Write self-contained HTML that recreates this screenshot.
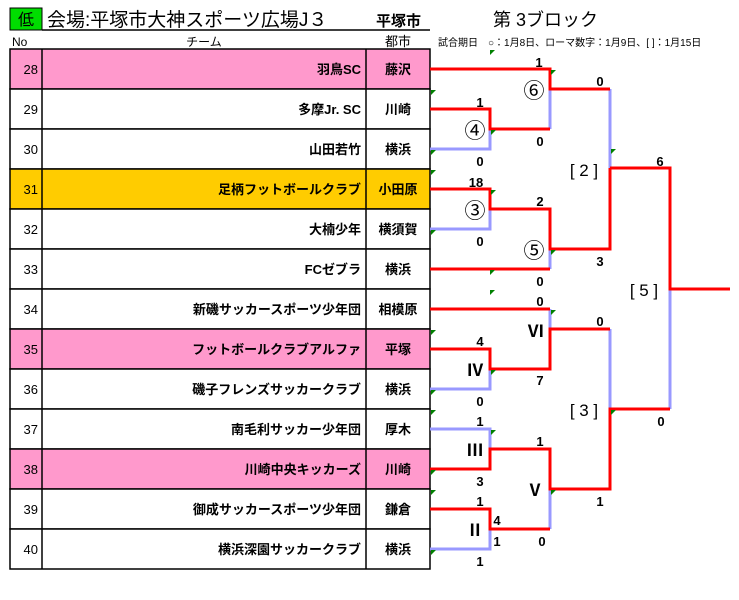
<!DOCTYPE html>
<html><head><meta charset="utf-8"><style>
body{margin:0;background:#fff;width:739px;height:600px;overflow:hidden}
svg{display:block}
text{font-family:"Liberation Sans","Noto Sans CJK JP",sans-serif;fill:#000}
.n{font-size:13px}
.t{font-size:13px;font-weight:bold;text-anchor:end}
.c{font-size:13px;font-weight:bold;text-anchor:middle}
.s{font-size:13px;font-weight:bold;text-anchor:middle}
.m{font-size:17px;text-anchor:middle}
.o{font-size:21px;text-anchor:middle}
.rm{font-size:17px;text-anchor:middle;font-family:"Liberation Serif","Noto Serif CJK SC",serif;font-weight:bold}
.r{stroke:#ff0000;stroke-width:3;fill:none}
.b{stroke:#9999ff;stroke-width:3;fill:none}
</style></head><body>
<svg width="739" height="600" viewBox="0 0 739 600">
<rect x="10" y="8" width="32" height="22" fill="#00dd00" stroke="#000"/>
<text x="26" y="25" style="font-size:16px;text-anchor:middle">低</text>
<text x="47" y="26" style="font-size:19px">会場:平塚市大神スポーツ広場J３</text>
<text x="376" y="26" style="font-size:15px;font-weight:bold">平塚市</text>
<line x1="42" y1="30" x2="430" y2="30" stroke="#000" stroke-width="1.5"/>
<text x="493" y="26" style="font-size:18px">第 3ブロック</text>
<text x="12" y="46" style="font-size:12px">No</text>
<text x="204" y="46" style="font-size:12px;text-anchor:middle">チーム</text>
<text x="398" y="46" style="font-size:13px;text-anchor:middle">都市</text>
<text x="438" y="46" style="font-size:10px">試合期日　○：1月8日、ローマ数字：1月9日、[ ]：1月15日</text>
<g stroke="#000" stroke-width="1.5">
<rect x="10" y="49" width="420" height="40" fill="#ff99cc"/>
<rect x="10" y="89" width="420" height="40" fill="#fff"/>
<rect x="10" y="129" width="420" height="40" fill="#fff"/>
<rect x="10" y="169" width="420" height="40" fill="#ffcc00"/>
<rect x="10" y="209" width="420" height="40" fill="#fff"/>
<rect x="10" y="249" width="420" height="40" fill="#fff"/>
<rect x="10" y="289" width="420" height="40" fill="#fff"/>
<rect x="10" y="329" width="420" height="40" fill="#ff99cc"/>
<rect x="10" y="369" width="420" height="40" fill="#fff"/>
<rect x="10" y="409" width="420" height="40" fill="#fff"/>
<rect x="10" y="449" width="420" height="40" fill="#ff99cc"/>
<rect x="10" y="489" width="420" height="40" fill="#fff"/>
<rect x="10" y="529" width="420" height="40" fill="#fff"/>
<line x1="42" y1="49" x2="42" y2="569"/>
<line x1="366" y1="49" x2="366" y2="569"/>
</g>
<g class="n" text-anchor="end">
<text x="38" y="74">28</text><text x="38" y="114">29</text><text x="38" y="154">30</text>
<text x="38" y="194">31</text><text x="38" y="234">32</text><text x="38" y="274">33</text>
<text x="38" y="314">34</text><text x="38" y="354">35</text><text x="38" y="394">36</text>
<text x="38" y="434">37</text><text x="38" y="474">38</text><text x="38" y="514">39</text>
<text x="38" y="554">40</text>
</g>
<text class="t" x="361" y="74">羽鳥SC</text><text class="c" x="398" y="74">藤沢</text>
<text class="t" x="361" y="114">多摩Jr. SC</text><text class="c" x="398" y="114">川崎</text>
<text class="t" x="361" y="154">山田若竹</text><text class="c" x="398" y="154">横浜</text>
<text class="t" x="361" y="194">足柄フットボールクラブ</text><text class="c" x="398" y="194">小田原</text>
<text class="t" x="361" y="234">大楠少年</text><text class="c" x="398" y="234">横須賀</text>
<text class="t" x="361" y="274">FCゼブラ</text><text class="c" x="398" y="274">横浜</text>
<text class="t" x="361" y="314">新磯サッカースポーツ少年団</text><text class="c" x="398" y="314">相模原</text>
<text class="t" x="361" y="354">フットボールクラブアルファ</text><text class="c" x="398" y="354">平塚</text>
<text class="t" x="361" y="394">磯子フレンズサッカークラブ</text><text class="c" x="398" y="394">横浜</text>
<text class="t" x="361" y="434">南毛利サッカー少年団</text><text class="c" x="398" y="434">厚木</text>
<text class="t" x="361" y="474">川崎中央キッカーズ</text><text class="c" x="398" y="474">川崎</text>
<text class="t" x="361" y="514">御成サッカースポーツ少年団</text><text class="c" x="398" y="514">鎌倉</text>
<text class="t" x="361" y="554">横浜深園サッカークラブ</text><text class="c" x="398" y="554">横浜</text>

<polyline class="b" points="550,89 550,129"/>
<polyline class="b" points="430,149 490,149 490,129"/>
<polyline class="b" points="610,89 610,168"/>
<polyline class="b" points="430,229 490,229 490,209"/>
<polyline class="b" points="550,249 550,269"/>
<polyline class="b" points="670,289 670,409"/>
<polyline class="b" points="550,309 550,329"/>
<polyline class="b" points="430,389 490,389 490,369"/>
<polyline class="b" points="610,329 610,409"/>
<polyline class="b" points="430,429 490,429 490,449"/>
<polyline class="b" points="550,489 550,529"/>
<polyline class="b" points="430,549 490,549 490,529"/>
<polyline class="r" points="430,69 550,69 550,89 610,89"/>
<polyline class="r" points="430,109 490,109 490,129 550,129"/>
<polyline class="r" points="610,168 670,168 670,289 730,289"/>
<polyline class="r" points="610,168 610,249 550,249 550,209 490,209 490,189 430,189"/>
<polyline class="r" points="430,269 550,269"/>
<polyline class="r" points="430,309 550,309"/>
<polyline class="r" points="610,329 550,329 550,369 490,369 490,349 430,349"/>
<polyline class="r" points="670,409 610,409 610,489 550,489 550,449 490,449 490,469 430,469"/>
<polyline class="r" points="430,509 490,509 490,529 550,529"/>
<g class="s">
<text x="539" y="67">1</text><text x="600" y="86">0</text><text x="480" y="107">1</text>
<text x="540" y="146">0</text><text x="480" y="166">0</text><text x="660" y="166">6</text>
<text x="476" y="187">18</text><text x="540" y="206">2</text><text x="480" y="246">0</text>
<text x="600" y="266">3</text><text x="540" y="286">0</text><text x="540" y="306">0</text>
<text x="600" y="326">0</text><text x="480" y="346">4</text><text x="540" y="385">7</text>
<text x="480" y="406">0</text><text x="661" y="426">0</text><text x="480" y="426">1</text>
<text x="540" y="446">1</text><text x="480" y="486">3</text><text x="600" y="506">1</text>
<text x="480" y="506">1</text><text x="497" y="525">4</text><text x="497" y="546">1</text>
<text x="542" y="546">0</text><text x="480" y="566">1</text>
</g>
<g class="o">
<text x="534" y="98">⑥</text><text x="475" y="138">④</text><text x="475" y="218">③</text>
<text x="534" y="258">⑤</text>
</g>
<g class="m">
<text x="584" y="176">[ 2 ]</text><text x="644" y="296">[ 5 ]</text><text x="584" y="416">[ 3 ]</text>
</g>
<g class="rm">
<text x="536" y="337">Ⅵ</text><text x="475" y="376">Ⅳ</text><text x="475" y="456">Ⅲ</text>
<text x="535" y="496">Ⅴ</text><text x="475" y="536">Ⅱ</text>
</g>
<g fill="#008000">
<polygon points="490,50 495,50 490,55"/><polygon points="551,70 556,70 551,75"/>
<polygon points="431,90 436,90 431,95"/><polygon points="491,130 496,130 491,135"/>
<polygon points="431,150 436,150 431,155"/><polygon points="611,149 616,149 611,154"/>
<polygon points="431,170 436,170 431,175"/><polygon points="491,190 496,190 491,195"/>
<polygon points="431,230 436,230 431,235"/><polygon points="551,250 556,250 551,255"/>
<polygon points="490,270 495,270 490,275"/><polygon points="490,290 495,290 490,295"/>
<polygon points="551,310 556,310 551,315"/><polygon points="431,330 436,330 431,335"/>
<polygon points="491,370 496,370 491,375"/><polygon points="431,390 436,390 431,395"/>
<polygon points="431,410 436,410 431,415"/><polygon points="611,410 616,410 611,415"/>
<polygon points="491,430 496,430 491,435"/><polygon points="431,470 436,470 431,475"/>
<polygon points="431,490 436,490 431,495"/><polygon points="551,490 556,490 551,495"/>
<polygon points="431,550 436,550 431,555"/>
</g>
</svg>
</body></html>
